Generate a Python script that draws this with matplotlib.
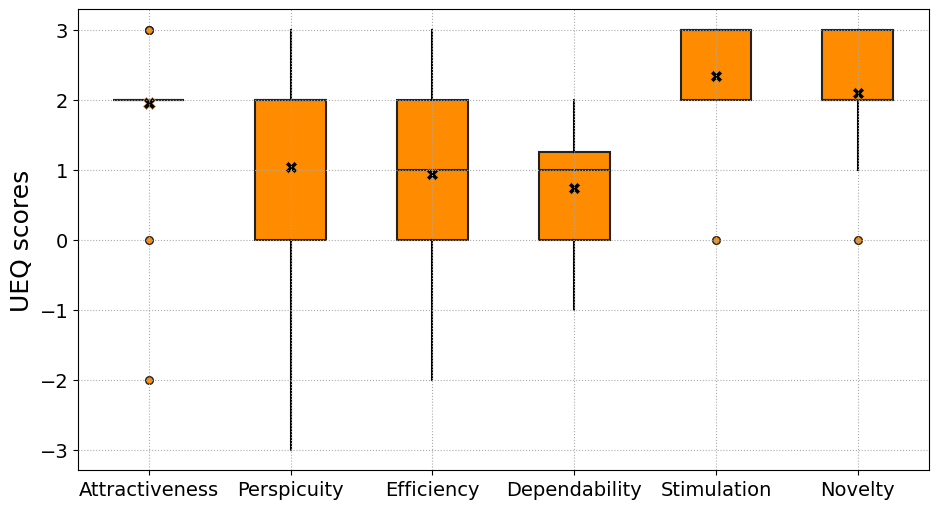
import matplotlib
matplotlib.use("Agg")
import matplotlib.pyplot as plt

categories = ["Attractiveness", "Perspicuity", "Efficiency", "Dependability", "Stimulation", "Novelty"]
q1 = [2, 0, 0, 0, 2, 2]
med = [2, 2, 1, 1, 3, 2]
q3 = [2, 2, 2, 1.25, 3, 3]
whislo = [2, -3, -2, -1, 2, 1]
whishi = [2, 3, 3, 2, 3, 3]
fliers = [[3, 3, 0, -2], [], [], [], [0], [0]]
means = [1.95, 1.04, 0.94, 0.74, 2.33, 2.1]

stats = []
for i, name in enumerate(categories):
    stats.append(dict(label=name, q1=q1[i], med=med[i], q3=q3[i],
                      whislo=whislo[i], whishi=whishi[i], fliers=fliers[i],
                      mean=means[i]))

fig, ax = plt.subplots(figsize=(9.4, 5.1), dpi=100)
fig.subplots_adjust(left=0.083, right=0.988, top=0.98, bottom=0.076)

ax.bxp(stats, widths=0.5, patch_artist=True, showmeans=True, showcaps=False,
       boxprops=dict(facecolor="darkorange", edgecolor="#222222", linewidth=1.5),
       medianprops=dict(color="#222222", linewidth=1.5),
       whiskerprops=dict(color="black", linewidth=1.5),
       flierprops=dict(marker="o", markerfacecolor="darkorange", markeredgecolor="#222222",
                       markersize=5.5),
       meanprops=dict(marker="X", markerfacecolor="black", markeredgecolor="darkorange",
                      markersize=9, markeredgewidth=0.5))

ax.set_axisbelow(False)
ax.grid(True, linestyle=":", color="#aaaaaa", linewidth=0.8)
ax.set_ylim(-3.29, 3.29)
ax.set_xlim(0.5, 6.5)
ax.set_yticks([-3, -2, -1, 0, 1, 2, 3])
ax.tick_params(labelsize=14)
ax.set_ylabel("UEQ scores", fontsize=18)

fig.savefig("out.png")
